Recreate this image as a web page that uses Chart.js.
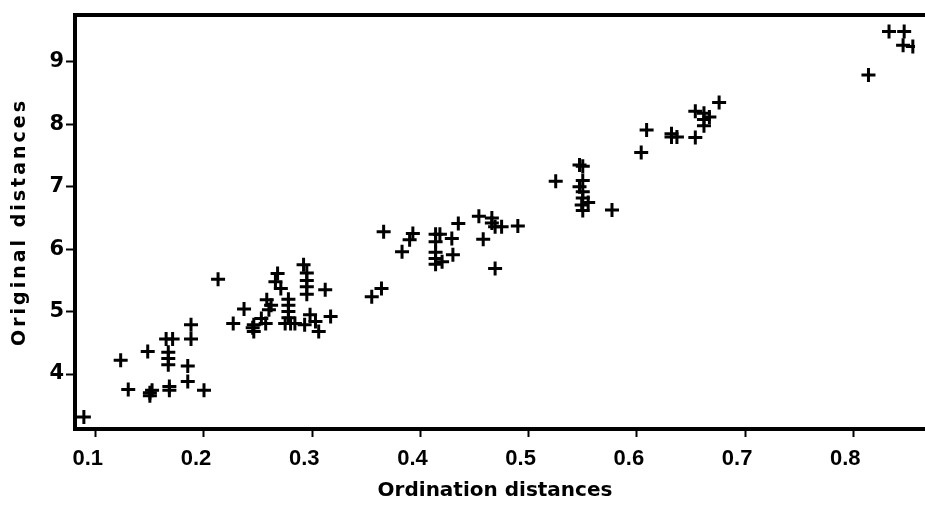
<!DOCTYPE html>
<html>
<head>
<meta charset="utf-8">
<script src="https://cdn.jsdelivr.net/npm/chart.js@4/dist/chart.umd.min.js"></script>
<style>
  html, body { margin: 0; padding: 0; background: #fff; }
  #grafico { display: block; }
</style>
</head>
<body>
<canvas id="grafico" width="925" height="508"></canvas>
<script>
// distancias (x = ordenacao, y = originais)
const ordinationDist = [
  0.089, 0.123, 0.130, 0.148, 0.150, 0.150, 0.152, 0.165, 0.167, 0.167,
  0.167, 0.168, 0.168, 0.171, 0.188, 0.188, 0.185, 0.185, 0.200, 0.213,
  0.227, 0.237, 0.245, 0.246, 0.246, 0.253, 0.257, 0.258, 0.260, 0.262,
  0.266, 0.268, 0.271, 0.275, 0.278, 0.278, 0.278, 0.278, 0.280, 0.284,
  0.292, 0.295, 0.295, 0.295, 0.295, 0.293, 0.298, 0.303, 0.306, 0.312,
  0.317, 0.355, 0.364, 0.366, 0.383, 0.390, 0.393, 0.414, 0.414, 0.418,
  0.414, 0.414, 0.414, 0.420, 0.429, 0.430, 0.435, 0.454, 0.458, 0.466,
  0.466, 0.469, 0.475, 0.469, 0.490, 0.525, 0.547, 0.550, 0.547, 0.550,
  0.550, 0.549, 0.550, 0.550, 0.555, 0.577, 0.604, 0.609, 0.632, 0.632,
  0.637, 0.654, 0.654, 0.662, 0.662, 0.662, 0.667, 0.676, 0.814, 0.833,
  0.847, 0.846, 0.855
];
const originalDist = [
  3.31, 4.22, 3.75, 4.36, 3.70, 3.65, 3.74, 4.56, 4.35, 4.25,
  4.15, 3.80, 3.74, 4.56, 4.79, 4.56, 4.13, 3.88, 3.74, 5.52,
  4.81, 5.04, 4.74, 4.68, 4.79, 4.89, 4.81, 5.19, 5.03, 5.10,
  5.48, 5.61, 5.37, 4.81, 5.20, 5.10, 5.00, 4.90, 4.81, 4.81,
  5.75, 5.62, 5.50, 5.40, 5.28, 4.79, 4.95, 4.84, 4.68, 5.35,
  4.92, 5.24, 5.37, 6.28, 5.96, 6.15, 6.25, 6.24, 6.12, 6.24,
  5.95, 5.85, 5.76, 5.80, 6.17, 5.91, 6.41, 6.53, 6.16, 6.50,
  6.42, 6.36, 6.36, 5.69, 6.37, 7.09, 7.35, 7.33, 7.00, 7.10,
  6.92, 6.71, 6.82, 6.62, 6.75, 6.63, 7.55, 7.91, 7.85, 7.80,
  7.80, 7.79, 8.21, 8.18, 8.08, 7.98, 8.12, 8.35, 8.79, 9.49,
  9.49, 9.27, 9.25
];
const xTicks = [0.1, 0.2, 0.3, 0.4, 0.5, 0.6, 0.7, 0.8];
const yTicks = [4, 5, 6, 7, 8, 9];

const pontos = ordinationDist.map((x, i) => ({ x: x, y: originalDist[i] }));

// moldura preta grossa (lado direito fica cortado como no original)
const moldura = {
  id: 'moldura',
  afterDraw(chart) {
    const a = chart.chartArea;
    const c = chart.ctx;
    c.save();
    c.strokeStyle = '#000';
    c.lineWidth = 4;
    c.beginPath();
    c.moveTo(a.right + 10, a.top);
    c.lineTo(a.left, a.top);
    c.lineTo(a.left, a.bottom);
    c.lineTo(a.right + 10, a.bottom);
    c.stroke();
    c.restore();
  }
};

// titulo do eixo y mais espacado (o original e esticado na vertical)
function espacarTitulo(scale) {
  if (scale._tituloEspacado) return;
  const original = scale.drawTitle.bind(scale);
  scale.drawTitle = function () {
    const c = scale.ctx;
    c.save();
    c.letterSpacing = '3px';
    original();
    c.restore();
  };
  scale._tituloEspacado = true;
}

const config = {
  type: 'scatter',
  data: {
    datasets: [{
      label: 'Distances',
      data: pontos,
      pointStyle: 'cross',
      pointRadius: 7,
      pointBorderWidth: 3,
      borderColor: '#000',
      backgroundColor: '#000'
    }]
  },
  options: {
    responsive: false,
    animation: false,
    layout: { padding: { top: 15, left: 0, right: 0, bottom: 0 } },
    plugins: {
      legend: { display: false },
      tooltip: { enabled: false }
    },
    scales: {
      x: {
        type: 'linear',
        min: 0.0808,
        max: 0.857,
        afterFit(scale) { scale.height = 79; },
        afterBuildTicks(scale) { scale.ticks = xTicks.map(v => ({ value: v })); },
        grid: { drawOnChartArea: false, color: '#000', tickLength: 8, tickWidth: 2 },
        border: { display: false },
        ticks: {
          color: '#000',
          padding: 9,
          labelOffset: -8,
          maxRotation: 0,
          font: { family: "'Liberation Sans Narrow', 'Liberation Sans', sans-serif", size: 22, weight: 'bold' },
          callback: v => v.toFixed(1)
        },
        title: {
          display: true,
          text: 'Ordination distances',
          color: '#000',
          padding: { top: 0, bottom: 5 },
          font: { family: "'DejaVu Sans', sans-serif", size: 20, weight: 'bold' }
        }
      },
      y: {
        type: 'linear',
        min: 3.119,
        max: 9.753,
        afterFit(scale) { scale.width = 75; espacarTitulo(scale); },
        afterBuildTicks(scale) { scale.ticks = yTicks.map(v => ({ value: v })); },
        grid: { drawOnChartArea: false, color: '#000', tickLength: 9, tickWidth: 2 },
        border: { display: false },
        ticks: {
          color: '#000',
          padding: 2,
          font: { family: "'DejaVu Sans', sans-serif", size: 21, weight: 'bold' },
          callback: v => String(v)
        },
        title: {
          display: true,
          text: 'Original distances',
          color: '#000',
          padding: { top: 9, bottom: 0 },
          font: { family: "'DejaVu Sans', sans-serif", size: 19, weight: 'bold' }
        }
      }
    }
  },
  plugins: [moldura]
};

const ctx = document.getElementById('grafico').getContext('2d');
const grafico = new Chart(ctx, config);
</script>
</body>
</html>
